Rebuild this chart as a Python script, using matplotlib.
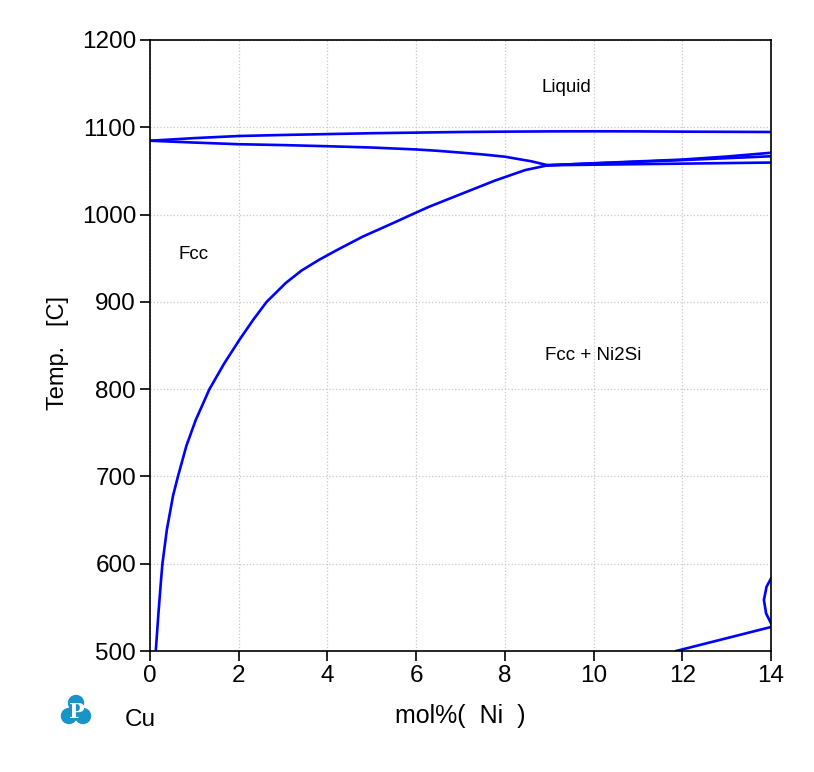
import matplotlib.pyplot as plt
from matplotlib.patches import Circle, Polygon

plt.rcParams['font.family'] = ['Liberation Sans', 'DejaVu Sans']

# -------------------------------
# Data (mol% Ni, temperature C)
# -------------------------------

liquidus_x = [0, 1, 2, 3, 4, 5, 6, 7, 8, 9, 10, 11, 12, 13, 14]
liquidus_t = [1084.6, 1087.6, 1090, 1091.2, 1092.2, 1093.2, 1093.9, 1094.6,
              1095, 1095.3, 1095.4, 1095.3, 1095, 1094.8, 1094.6]

solidus_x = [0, 1, 2, 3, 4, 5, 6, 6.5, 7, 7.5, 8, 8.6, 8.97]
solidus_t = [1084.6, 1082.5, 1080.6, 1079.6, 1078.3, 1076.8, 1074.6, 1073,
             1071, 1068.9, 1066.3, 1061, 1056.5]

solvus_x = [0.13, 0.19, 0.25, 0.28, 0.38, 0.52, 0.63, 0.82, 1.03, 1.34,
            1.68, 2.02, 2.33, 2.63, 3.06, 3.42, 3.81, 4.22, 4.79, 5.46,
            5.9, 6.28, 7.03, 7.78, 8.46, 8.97]
solvus_t = [500, 543, 582, 600, 639, 678, 700, 735, 764.5, 800,
            830, 856.8, 879.7, 900, 921.6, 936, 948.1, 959.5, 974.6, 989.8,
            1000, 1008.7, 1023.9, 1039, 1051, 1056.5]

low_x = [8.97, 14]
low_t = [1056.5, 1059.6]

mid_x = [8.97, 10, 12, 14]
mid_t = [1056.5, 1058.6, 1062.4, 1066.8]

up_x = [8.97, 10, 12, 13, 14]
up_t = [1056.5, 1058.8, 1063, 1066.5, 1070.8]

bottom_x = [11.86, 14]
bottom_t = [500, 527.5]

loop_x = [14.0, 13.9, 13.84, 13.89, 14.0]
loop_t = [583, 573.7, 558.4, 543, 531.7]

x_ticks = [0, 2, 4, 6, 8, 10, 12, 14]
y_ticks = [500, 600, 700, 800, 900, 1000, 1100, 1200]

labels = [("Liquid", 9.38, 1146), ("Fcc", 0.99, 954), ("Fcc + Ni2Si", 10.0, 839)]

# -------------------------------
# Plot
# -------------------------------

fig = plt.figure(figsize=(8.14, 7.72), dpi=100)
ax = fig.add_axes([150 / 814, 1 - 651 / 772, 621 / 814, 611 / 772])

line_kw = dict(color="#0000ff", lw=1.9)
for xs, ts in [(liquidus_x, liquidus_t), (solidus_x, solidus_t),
               (solvus_x, solvus_t), (low_x, low_t), (mid_x, mid_t),
               (up_x, up_t), (bottom_x, bottom_t), (loop_x, loop_t)]:
    ax.plot(xs, ts, **line_kw)

ax.set_xlim(0, 14)
ax.set_ylim(500, 1200)
ax.set_xticks(x_ticks)
ax.set_yticks(y_ticks)
ax.grid(True, color="#c8c8c8", linestyle=":", linewidth=0.9)
ax.tick_params(direction="out", length=7, width=1.2, labelsize=17.5, pad=3)
for s in ax.spines.values():
    s.set_linewidth(1.2)

for txt, x, t in labels:
    ax.text(x, t, txt, fontsize=13.5, ha="center", va="center")

ax.set_xlabel("mol%(  Ni  )", fontsize=18, labelpad=12)
ax.set_ylabel("Temp.   [C]", fontsize=17)
ax.yaxis.set_label_coords(-0.13, 0.488)

fig.text(140 / 814, 1 - 720 / 772, "Cu", fontsize=17.5, ha="center", va="center")

# logo
lax = fig.add_axes([58 / 814, 1 - 728 / 772, 36 / 814, 36 / 772])
lax.set_xlim(0, 36)
lax.set_ylim(0, 36)
lax.axis("off")
logo_col = "#1a93c8"
for cx, cy in [(18, 25), (11, 12), (25, 12)]:
    lax.add_patch(Circle((cx, cy), 7.5, color=logo_col))
lax.add_patch(Polygon([[18, 30], [6, 9], [30, 9]], color=logo_col))
lax.text(18.5, 16, "P", color="white", fontsize=15, fontweight="bold",
         family="DejaVu Serif", ha="center", va="center")

fig.savefig("out.png", dpi=100)
